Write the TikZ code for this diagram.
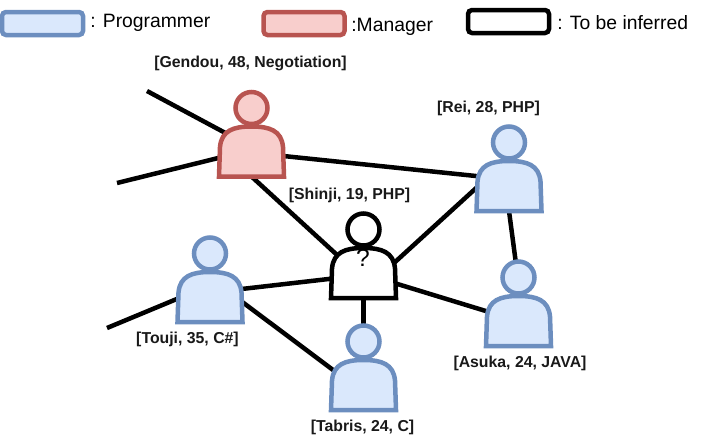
\documentclass[tikz,border=0pt]{standalone}
\usepackage{fontspec}
\setmainfont{Liberation Sans}
\definecolor{progfill}{HTML}{DAE8FC}
\definecolor{progline}{HTML}{6C8EBF}
\definecolor{mgrfill}{HTML}{F8CECC}
\definecolor{mgrline}{HTML}{B85450}
\tikzset{
  programmer/.style={draw=progline,fill=progfill,line width=0.09cm},
  manager/.style={draw=mgrline,fill=mgrfill,line width=0.09cm},
  inferred/.style={draw=black,fill=white,line width=0.09cm},
  personbox/.style={minimum width=1.3cm,minimum height=1cm,inner sep=0pt,outer sep=0pt},
  personhead/.style={circle,minimum size=0.64cm,inner sep=0pt,outer sep=0pt},
  legendbox/.style={rounded corners=0.08cm,minimum width=1.62cm,minimum height=0.46cm,inner sep=0pt},
  legendtext/.style={font=\fontsize{11}{13}\selectfont,anchor=west,inner sep=0pt},
  personlabel/.style={font=\fontsize{9}{11}\selectfont\bfseries,text=black!90,inner sep=0pt},
  link/.style={draw=black,line width=0.09cm,shorten >=-0.2cm},
  bothlink/.style={link,shorten <=-0.2cm}
}
\begin{document}
\begin{tikzpicture}
\useasboundingbox (0,0) rectangle (14.24,8.88);

% Legend
\node[legendbox,programmer] (keyprog) at (0.85,8.41) {};
\node[legendbox,manager] (keymgr) at (6.08,8.41) {};
\node[legendbox,inferred] (keyinf) at (10.17,8.45) {};
\node[legendtext] (keyprogtext) at (1.8,8.42) {: Programmer};
\node[legendtext] (keymgrtext) at (7.02,8.34) {:Manager};
\node[legendtext] (keyinftext) at (11.14,8.42) {: To be inferred};

% Places of the people
\foreach \name/\x/\y in {mgr/5.03/5.85,rei/10.18/5.16,shinji/7.27/3.42,touji/4.2/2.94,tabris/7.27/1.18,asuka/10.37/2.46} {
  \node[personbox] (\name) at (\x,\y) {};
  \node[personhead] (\name-head) at ([yshift=0.87cm]\name.center) {};
}

% Loose ends
\coordinate (stubA) at (2.94,7.06);
\coordinate (stubB) at (2.34,5.22);
\coordinate (stubC) at (2.14,2.32);

% Links
\draw[link] (stubA) -- (mgr.146);
\draw[link] (stubB) -- (mgr.191);
\draw[link] (stubC) -- (touji.183);
\draw[bothlink] (mgr.-8) -- (rei.163);
\draw[bothlink] (mgr.south) -- (shinji.144);
\draw[bothlink] (rei.183) -- (shinji.20);
\draw[bothlink] (rei.south) -- (asuka-head.100);
\draw[bothlink] (shinji.-18) -- (asuka.163);
\draw[bothlink] (shinji.190) -- (touji.14);
\draw[bothlink] (shinji.south) -- (tabris-head.north);
\draw[bothlink] (touji.-9) -- (tabris.153);

% People
\foreach \name/\kind in {mgr/manager,rei/programmer,shinji/inferred,touji/programmer,tabris/programmer,asuka/programmer} {
  \draw[\kind] (\name-head) circle (0.32);
  \begin{scope}[shift={(\name.center)}]
    \draw[\kind] (-0.65,-0.5) -- (-0.63,0.09) .. controls (-0.6,0.42) and (-0.36,0.5) .. (0,0.5)
      .. controls (0.36,0.5) and (0.6,0.42) .. (0.63,0.09) -- (0.65,-0.5) -- cycle;
  \end{scope}
}
\node[font=\fontsize{14}{16}\selectfont,inner sep=0pt] (mark) at (7.26,3.72) {?};

% Labels
\node[personlabel] (mgrlabel) at (5.01,7.62) {[Gendou, 48, Negotiation]};
\node[personlabel] (reilabel) at (9.77,6.72) {[Rei, 28, PHP]};
\node[personlabel] (shinjilabel) at (6.99,4.97) {[Shinji, 19, PHP]};
\node[personlabel] (toujilabel) at (3.75,2.1) {[Touji, 35, C\#]};
\node[personlabel] (asukalabel) at (10.4,1.62) {[Asuka, 24, JAVA]};
\node[personlabel] (tabrislabel) at (7.25,0.34) {[Tabris, 24, C]};
\end{tikzpicture}
\end{document}
